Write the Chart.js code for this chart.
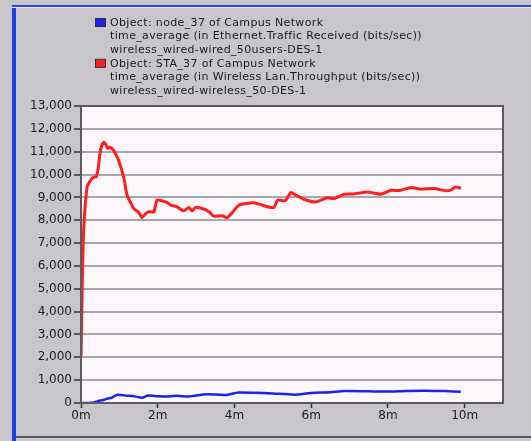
<!DOCTYPE html>
<html>
<head>
<meta charset="utf-8">
<script src="https://cdn.jsdelivr.net/npm/chart.js@4"></script>
<style>
  html, body { margin: 0; padding: 0; background: #c9c6cb; }
  #frame { position: relative; width: 531px; height: 441px; overflow: hidden; }
  #blueLeft { position: absolute; left: 12px; top: 5px; width: 4px; height: 436px; background: #1f3fe0; }
  #blueTop { position: absolute; left: 12px; top: 5px; width: 519px; height: 2px; background: #2848e8; border-bottom: 1px solid #eef; }
  #bottomLine { position: absolute; left: 16px; top: 436px; width: 515px; height: 2px; background: #5a585c; }
  canvas { position: absolute; left: 0; top: 0; }
</style>
</head>
<body>
<div id="frame">
  <canvas id="chart" width="531" height="441"></canvas>
  <div id="blueLeft"></div>
  <div id="blueTop"></div>
  <div id="bottomLine"></div>
</div>
<script>
// time in minutes, values in bits/sec
const staTime = [0, 0.03, 0.07, 0.16, 0.25, 0.32, 0.4, 0.45, 0.5, 0.55, 0.6, 0.65, 0.7, 0.75, 0.85, 0.98, 1.11, 1.2, 1.3, 1.37, 1.5, 1.59, 1.68, 1.77, 1.9, 1.98, 2.1, 2.24, 2.35, 2.5, 2.68, 2.81, 2.9, 2.98, 3.2, 3.35, 3.46, 3.68, 3.81, 3.95, 4.12, 4.5, 4.86, 5.03, 5.12, 5.29, 5.35, 5.47, 5.6, 5.81, 6.12, 6.42, 6.6, 6.86, 7.1, 7.47, 7.81, 8.08, 8.3, 8.6, 8.86, 9.2, 9.51, 9.65, 9.77, 9.9];
const staValues = [2000, 5000, 7600, 9460, 9750, 9880, 9900, 10300, 11000, 11300, 11410, 11300, 11150, 11200, 11060, 10620, 9900, 9100, 8750, 8520, 8350, 8120, 8280, 8370, 8370, 8880, 8850, 8780, 8650, 8590, 8410, 8560, 8410, 8560, 8490, 8350, 8180, 8200, 8110, 8350, 8660, 8760, 8590, 8560, 8880, 8850, 8900, 9210, 9100, 8920, 8800, 8980, 8950, 9140, 9150, 9240, 9140, 9310, 9300, 9430, 9360, 9390, 9290, 9330, 9460, 9390];
const nodeTime = [0, 0.3, 0.4, 0.5, 0.6, 0.7, 0.8, 0.95, 1.2, 1.4, 1.59, 1.75, 2.0, 2.2, 2.5, 2.8, 3.0, 3.3, 3.6, 3.8, 4.1, 4.5, 5.0, 5.55, 6.0, 6.5, 6.85, 7.5, 8.0, 8.5, 9.0, 9.5, 9.9];
const nodeValues = [0, 10, 60, 110, 140, 200, 230, 360, 320, 290, 230, 330, 300, 280, 320, 280, 330, 380, 360, 350, 460, 450, 420, 365, 440, 470, 520, 510, 500, 530, 540, 520, 490];
const nodeLabel = ['Object: node_37 of Campus Network', 'time_average (in Ethernet.Traffic Received (bits/sec))', 'wireless_wired-wired_50users-DES-1'];
const staLabel = ['Object: STA_37 of Campus Network', 'time_average (in Wireless Lan.Throughput (bits/sec))', 'wireless_wired-wireless_50-DES-1'];

const toPoints = (xs, ys) => xs.map((x, i) => ({ x: x, y: ys[i] }));

const plotFrame = {
    id: 'plotFrame',
    beforeDraw(chart) {
        const { ctx, chartArea: a } = chart;
        ctx.save();
        ctx.fillStyle = '#fbf7fb';
        ctx.fillRect(a.left, a.top, a.right - a.left, a.bottom - a.top);
        ctx.restore();
    },
    afterDatasetsDraw(chart) {
        const { ctx, chartArea: a } = chart;
        ctx.save();
        ctx.strokeStyle = '#5c5a5e';
        ctx.lineWidth = 2;
        ctx.strokeRect(a.left, a.top, a.right - a.left, a.bottom - a.top);
        ctx.restore();
    },
    afterDraw(chart) {
        const ctx = chart.ctx;
        ctx.save();
        ctx.font = '11px "DejaVu Sans"';
        ctx.letterSpacing = '0.35px';
        ctx.textBaseline = 'middle';
        let y = 23;
        chart.data.datasets.forEach(ds => {
            ctx.fillStyle = ds.borderColor;
            ctx.fillRect(95, y - 4, 10, 8);
            ctx.strokeStyle = '#303030';
            ctx.lineWidth = 1;
            ctx.strokeRect(95.5, y - 4.5, 10, 8);
            ctx.fillStyle = '#1a1a1a';
            ds.legendLines.forEach(line => {
                ctx.fillText(line, 110, y);
                y += 13.6;
            });
        });
        ctx.restore();
    }
};

new Chart(document.getElementById('chart'), {
    type: 'line',
    data: {
        datasets: [
            {
                label: nodeLabel[0], legendLines: nodeLabel,
                data: toPoints(nodeTime, nodeValues),
                borderColor: '#1e22f0', borderWidth: 2.5, pointRadius: 0, tension: 0.2
            },
            {
                label: staLabel[0], legendLines: staLabel,
                data: toPoints(staTime, staValues),
                borderColor: '#ff1e1e', borderWidth: 3, pointRadius: 0, tension: 0.2
            }
        ]
    },
    options: {
        responsive: false, animation: false,
        layout: { padding: { left: 0, right: 28, top: 106, bottom: 0 } },
        plugins: { legend: { display: false }, tooltip: { enabled: false } },
        scales: {
            x: {
                type: 'linear', min: 0, max: 11,
                afterFit: s => { s.height = 38; },
                grid: { drawOnChartArea: false, tickLength: 5, tickColor: '#303030', tickWidth: 1.5 },
                border: { display: false },
                ticks: {
                    stepSize: 2, includeBounds: false, maxRotation: 0, padding: 1,
                    color: '#1a1a1a', font: { family: 'DejaVu Sans', size: 12 },
                    callback: v => v + 'm'
                }
            },
            y: {
                min: 0, max: 13000,
                afterFit: s => { s.width = 81; },
                grid: { color: '#a9a6ab', lineWidth: 2, tickLength: 7, tickColor: '#303030', tickWidth: 1.5 },
                border: { display: false },
                ticks: {
                    stepSize: 1000, padding: 2,
                    color: '#1a1a1a', font: { family: 'DejaVu Sans', size: 12 },
                    callback: v => v.toLocaleString('en-US')
                }
            }
        }
    },
    plugins: [plotFrame]
});
</script>
</body>
</html>
